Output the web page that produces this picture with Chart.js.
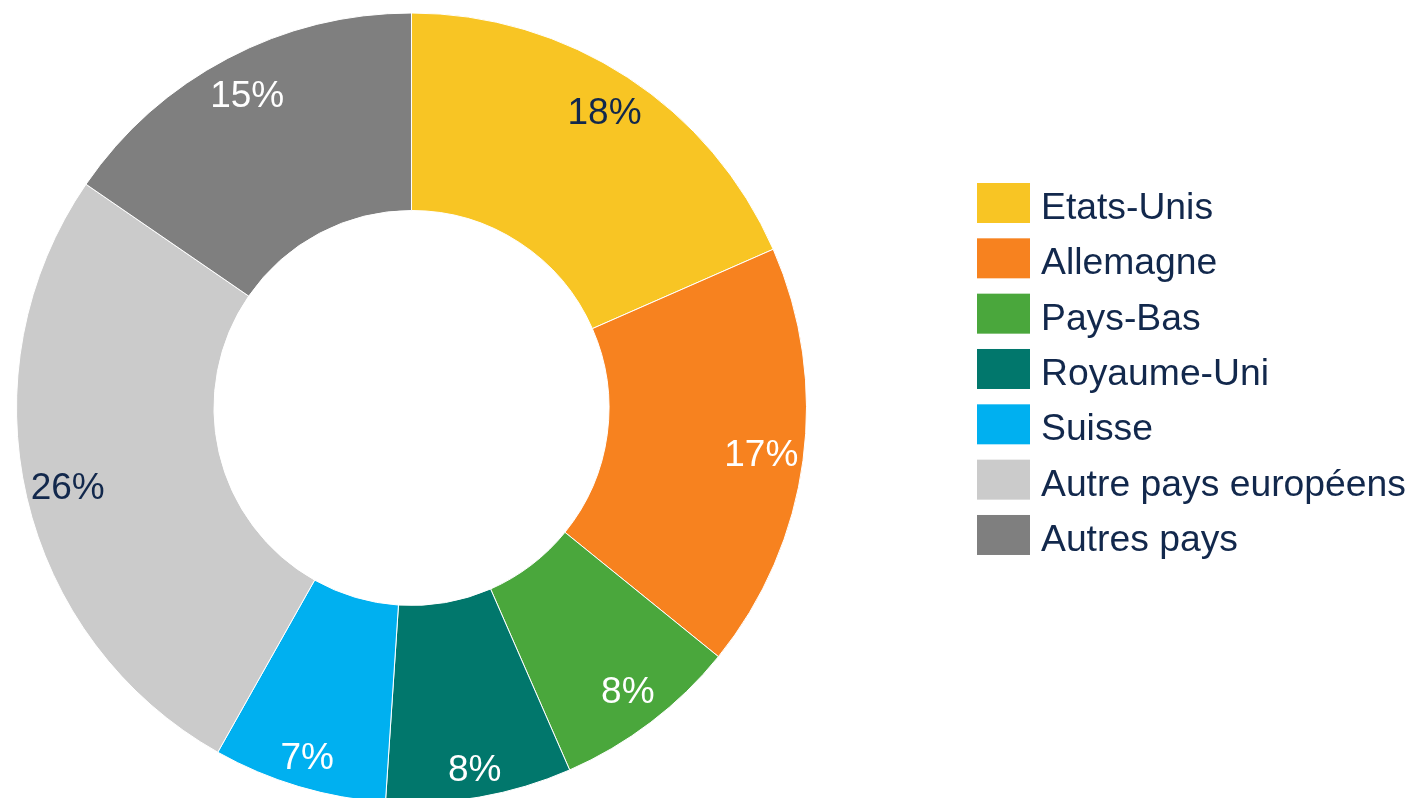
<!DOCTYPE html>
<html>
<head>
<meta charset="utf-8">
<script src="https://cdn.jsdelivr.net/npm/chart.js@4.4.1/dist/chart.umd.min.js"></script>
<style>
  html, body { margin: 0; padding: 0; background: #fff; }
  #wrap { width: 1412px; height: 798px; }
</style>
</head>
<body>
<div id="wrap"><canvas id="donut" width="1412" height="798"></canvas></div>
<script>
// data (shares in %)
const countries = ['Etats-Unis', 'Allemagne', 'Pays-Bas', 'Royaume-Uni', 'Suisse', 'Autre pays européens', 'Autres pays'];
const shares = [18.4, 17.4, 7.6, 7.6, 7.1, 26.4, 15.4];
const sliceColors = ['#F8C524', '#F7821F', '#4AA73C', '#01776C', '#00B0F0', '#CBCBCB', '#7F7F7F'];
const valueTextColors = ['#12284C', '#ffffff', '#ffffff', '#ffffff', '#ffffff', '#12284C', '#ffffff'];

const FONT = '"Liberation Sans", Arial, sans-serif';
const NAVY = '#12284C';

// percent labels inside the ring
const sliceLabels = {
    id: 'sliceLabels',
    afterDatasetsDraw(chart) {
        const ctx = chart.ctx;
        const meta = chart.getDatasetMeta(0);
        ctx.save();
        ctx.font = '37px ' + FONT;
        ctx.textAlign = 'center';
        ctx.textBaseline = 'middle';
        meta.data.forEach((arc, i) => {
            const p = arc.getProps(['x', 'y', 'startAngle', 'endAngle', 'innerRadius', 'outerRadius'], true);
            const mid = (p.startAngle + p.endAngle) / 2;
            // labels near the bottom sit a bit further out
            const push = Math.pow(Math.max(0, Math.sin(mid)), 6) * 16;
            const r = p.innerRadius + (p.outerRadius - p.innerRadius) * 0.787 + push;
            ctx.fillStyle = valueTextColors[i];
            ctx.fillText(Math.round(shares[i]) + '%', p.x + Math.cos(mid) * r, p.y + Math.sin(mid) * r + 1);
        });
        ctx.restore();
    }
};

// legend on the right, square swatches + labels
const sideLegend = {
    id: 'sideLegend',
    afterDraw(chart) {
        const ctx = chart.ctx;
        ctx.save();
        ctx.font = '37.3px ' + FONT;
        ctx.textBaseline = 'alphabetic';
        ctx.textAlign = 'left';
        countries.forEach((name, i) => {
            const top = 183 + i * 55.33;
            ctx.fillStyle = sliceColors[i];
            ctx.fillRect(977, top, 53, 40);
            ctx.fillStyle = NAVY;
            ctx.fillText(name, 1041, top + 36);
        });
        ctx.restore();
    }
};

new Chart(document.getElementById('donut'), {
    type: 'doughnut',
    data: {
        labels: countries,
        datasets: [{
            data: shares,
            backgroundColor: sliceColors,
            borderColor: '#ffffff',
            borderWidth: 1
        }]
    },
    options: {
        responsive: false,
        animation: false,
        radius: 395,
        cutout: '50%',
        layout: { padding: { top: 18, right: 589, bottom: 0, left: 0 } },
        plugins: {
            legend: { display: false },
            tooltip: { enabled: false }
        }
    },
    plugins: [sliceLabels, sideLegend]
});
</script>
</body>
</html>
